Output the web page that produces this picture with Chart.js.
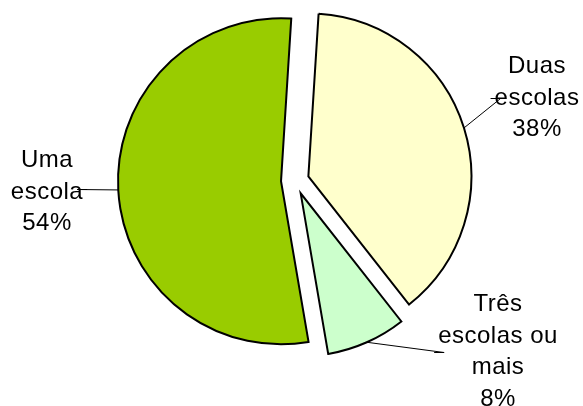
<!DOCTYPE html>
<html>
<head>
<meta charset="utf-8">
<script src="https://cdn.jsdelivr.net/npm/chart.js@4.4.4/dist/chart.umd.min.js"></script>
<style>
  html, body { margin: 0; padding: 0; background: #fff; overflow: hidden; }
</style>
</head>
<body>
<canvas id="chart-pie" width="583" height="406"></canvas>
<script>
/* ── Data ─────────────────────────────────────────────────────────── */
const categories = ["Duas escolas", "Três escolas ou mais", "Uma escola"];
const labelLines = [["Duas", "escolas"], ["Três", "escolas ou", "mais"], ["Uma", "escola"]];
const shares     = [38.4, 7.9, 53.7];
const colors     = ["#FFFFCC", "#CCFFCC", "#99CC00"];

/* ── Layout ───────────────────────────────────────────────────────── */
const EXPLODE = 14;      // px each slice is pulled out along its bisector
const LINE_H  = 31.5;
// x = centre of label block, y = baseline of first line, leaderDy relative to 2nd baseline
const LABEL_POS = [
  { x: 537, y: 73,  side: "left",  leaderDy: -6 },
  { x: 498, y: 311, side: "left",  leaderDy: 10 },
  { x: 47,  y: 167, side: "right", leaderDy: -9 },
];

// pull every slice out without changing its radius
const explodePlugin = {
  id: "explode",
  beforeDatasetDraw(chart, args) {
    args.meta.data.forEach(arc => {
      if (arc._exploded) return;
      const draw = arc.draw.bind(arc);
      arc.draw = ctx => {
        const mid = (arc.startAngle + arc.endAngle) / 2;
        ctx.save();
        ctx.translate(Math.cos(mid) * EXPLODE, Math.sin(mid) * EXPLODE);
        draw(ctx);
        ctx.restore();
      };
      arc._exploded = true;
    });
  }
};

// category labels with leader lines
const labelPlugin = {
  id: "pieLabels",
  afterDatasetsDraw(chart) {
    const ctx  = chart.ctx;
    const arcs = chart.getDatasetMeta(0).data;
    ctx.save();
    ctx.font = '24px "Liberation Sans", Arial, sans-serif';
    ctx.letterSpacing = "0.5px";
    ctx.fillStyle = "#000";
    ctx.textAlign = "center";
    ctx.textBaseline = "alphabetic";
    arcs.forEach((arc, i) => {
      const pos   = LABEL_POS[i];
      const lines = [...labelLines[i], Math.round(shares[i]) + "%"];
      lines.forEach((t, k) => ctx.fillText(t, pos.x, pos.y + k * LINE_H));

      const mid = (arc.startAngle + arc.endAngle) / 2;
      const r   = arc.outerRadius + EXPLODE;
      const sx  = arc.x + Math.cos(mid) * r;
      const sy  = arc.y + Math.sin(mid) * r;
      const w   = ctx.measureText(lines[1]).width;
      const dir = pos.side === "left" ? -1 : 1;
      const ex  = pos.x + dir * (w / 2 + 4);
      const ey  = pos.y + LINE_H + pos.leaderDy;
      const bx  = ex - dir * 10;
      ctx.beginPath();
      ctx.moveTo(sx, sy);
      ctx.lineTo(bx, ey);
      ctx.lineTo(ex, ey);
      ctx.strokeStyle = "#000";
      ctx.lineWidth = 1;
      ctx.stroke();
    });
    ctx.restore();
  }
};

new Chart(document.getElementById("chart-pie"), {
  type: "pie",
  data: {
    labels: categories,
    datasets: [{
      data: shares,
      backgroundColor: colors,
      borderColor: "#000",
      borderWidth: 2,
      borderJoinStyle: "miter"
    }]
  },
  options: {
    responsive: false,
    animation: false,
    rotation: 3.6,
    layout: { padding: { top: 16.5, bottom: 61.5, left: 95, right: 88 } },
    plugins: { legend: { display: false }, tooltip: { enabled: false } }
  },
  plugins: [explodePlugin, labelPlugin]
});
</script>
</body>
</html>
